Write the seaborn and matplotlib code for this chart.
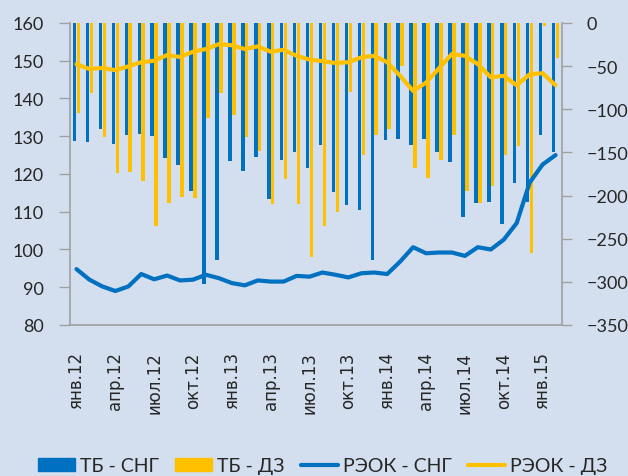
import numpy as np
import pandas as pd
import matplotlib
matplotlib.use("Agg")
import matplotlib.pyplot as plt
from matplotlib.patches import Patch
from matplotlib.lines import Line2D
import seaborn as sns

# monthly categories, Jan 2012 .. Feb 2015
months = [
    "янв.12", "фев.12", "мар.12", "апр.12", "май.12", "июн.12",
    "июл.12", "авг.12", "сен.12", "окт.12", "ноя.12", "дек.12",
    "янв.13", "фев.13", "мар.13", "апр.13", "май.13", "июн.13",
    "июл.13", "авг.13", "сен.13", "окт.13", "ноя.13", "дек.13",
    "янв.14", "фев.14", "мар.14", "апр.14", "май.14", "июн.14",
    "июл.14", "авг.14", "сен.14", "окт.14", "ноя.14", "дек.14",
    "янв.15", "фев.15",
]

# bars, right axis
tb_cis = [-137, -138, -123, -140, -130, -129, -131, -157, -165, -195, -302, -275,
          -160, -171, -155, -204, -159, -150, -168, -141, -196, -211, -217, -275,
          -136, -135, -141, -135, -150, -161, -225, -209, -207, -233, -185, -207,
          -130, -150]
tb_dz = [-104, -81, -132, -174, -173, -183, -235, -209, -202, -203, -110, -81,
         -107, -132, -148, -210, -181, -210, -271, -235, -219, -80, -153, -130,
         -123, -50, -168, -180, -159, -130, -195, -209, -189, -153, -143, -266,
         -4, -41]

# lines, left axis
reok_cis = [94.8, 92.0, 90.2, 89.0, 90.2, 93.5, 92.1, 93.1, 91.8, 92.0, 93.3, 92.4,
            91.1, 90.5, 91.8, 91.5, 91.5, 93.0, 92.8, 93.9, 93.3, 92.6, 93.7, 93.9,
            93.5, 96.8, 100.6, 99.0, 99.2, 99.2, 98.3, 100.6, 100.0, 102.6, 107.0, 117.7,
            122.5, 125.0]
reok_dz = [149.1, 147.8, 148.1, 147.5, 148.5, 149.6, 150.0, 151.5, 151.0, 152.4, 153.1, 154.4,
           154.1, 153.1, 153.8, 152.4, 152.9, 151.3, 150.3, 149.9, 149.4, 149.6, 150.9, 151.3,
           149.6, 146.0, 142.0, 144.2, 148.0, 151.8, 151.3, 149.1, 145.6, 146.0, 143.5, 146.4,
           146.7, 143.5]

series_names = ["ТБ - СНГ", "ТБ - ДЗ", "РЭОК - СНГ", "РЭОК - ДЗ"]

BG = "#d3dfee"
BLUE = "#0070c0"
YELLOW = "#ffc000"
GREY = "#a0a0a0"

sns.set_style("white")
plt.rcParams["font.family"] = ["Lato", "DejaVu Sans"]
plt.rcParams["font.size"] = 13

bars = pd.DataFrame({
    "month": months * 2,
    "series": [series_names[0]] * len(months) + [series_names[1]] * len(months),
    "value": tb_cis + tb_dz,
})

fig = plt.figure(figsize=(6.28, 4.77), dpi=100, facecolor=BG)
ax = fig.add_axes([0.1115, 0.3166, 0.7834, 0.6331])
ax.set_facecolor(BG)

sns.barplot(data=bars, x="month", y="value", hue="series",
            hue_order=series_names[:2], palette=[BLUE, YELLOW],
            width=0.6, gap=0.1, saturation=1, legend=False,
            linewidth=0, edgecolor="none", ax=ax)

ax2 = ax.twinx()
x = np.arange(len(months))
sns.lineplot(x=x, y=reok_cis, color=BLUE, linewidth=3, ax=ax2)
sns.lineplot(x=x, y=reok_dz, color=YELLOW, linewidth=3, ax=ax2)

# bars on the right axis, lines on the left
ax.yaxis.tick_right()
ax2.yaxis.tick_left()
ax.set_ylim(-350, 0)
ax.set_yticks(range(-350, 1, 50))
ax2.set_ylim(80, 160)
ax2.set_yticks(range(80, 161, 10))
ax.set_xlim(-0.5, len(months) - 0.5)

ax.set_xticks(range(0, len(months), 3))
ax.set_xticklabels(months[::3], rotation=90, family=["DejaVu Sans"], fontsize=12)
ax.set_xticks(np.arange(-0.5, len(months) - 1, 3), minor=True)
ax.tick_params(axis="x", which="major", length=0, pad=19)
ax.tick_params(axis="x", which="minor", length=5, width=1, color=GREY, direction="out")
ax.tick_params(axis="y", length=7, width=1, color=GREY, pad=11)
ax2.tick_params(axis="y", length=8, width=1, color=GREY, pad=11)

for a in (ax, ax2):
    a.set_xlabel("")
    a.set_ylabel("")
    for s in a.spines.values():
        s.set_visible(False)
for side in ("left", "right", "bottom"):
    ax.spines[side].set_visible(True)
    ax.spines[side].set_color(GREY)
    ax.spines[side].set_linewidth(1.2)

handles = [
    Patch(color=BLUE), Patch(color=YELLOW),
    Line2D([], [], color=BLUE, linewidth=3),
    Line2D([], [], color=YELLOW, linewidth=3),
]
fig.legend(handles, series_names, loc="center", bbox_to_anchor=(0.514, 0.021),
           ncol=4, frameon=False, handlelength=1.9, handleheight=0.62,
           handletextpad=0.25, columnspacing=0.85, fontsize=14)

fig.savefig("out.png", dpi=100, facecolor=BG)
